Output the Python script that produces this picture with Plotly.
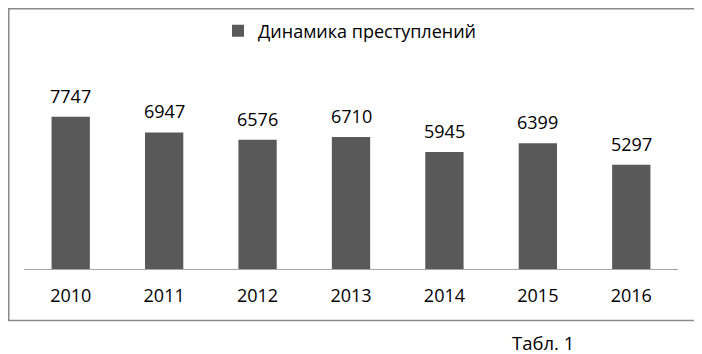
import plotly.graph_objects as go

years = ["2010", "2011", "2012", "2013", "2014", "2015", "2016"]
crimes = [7747, 6947, 6576, 6710, 5945, 6399, 5297]
series_name = "Динамика преступлений"
caption = "Табл. 1"

# page has an 8px body margin, so figure coords = page coords - 8
OFF = 8
W, H = 702 - OFF, 354 - OFF
L, R, T, B = 24 - OFF, 24, 92 - OFF, 85
pw = W - L - R
ph = H - T - B

def px_x(x):  # page x -> paper
    return (x - OFF - L) / pw

def px_y(y):  # page y -> paper
    return (H - B - (y - OFF)) / ph

FONT = "Open Sans"
fig = go.Figure()
fig.add_trace(go.Bar(
    x=years, y=crimes, name=series_name,
    marker=dict(color="#595959", line=dict(width=0)),
    showlegend=True,
))

for i, v in enumerate(crimes):
    fig.add_annotation(x=i, y=v, xref="x", yref="y", text=str(v), showarrow=False,
                       yanchor="bottom", yshift=7,
                       font=dict(family=FONT, size=18, color="#000000"))

fig.add_annotation(xref="paper", yref="paper", x=px_x(576), y=px_y(342),
                   xanchor="right", yanchor="middle", text=caption, showarrow=False,
                   font=dict(family=FONT, size=18.5, color="#000000"))

fig.add_shape(type="rect", xref="paper", yref="paper",
              x0=px_x(OFF + 0.75), x1=px_x(700.5), y0=px_y(320.5), y1=px_y(OFF + 0.75),
              line=dict(color="#8a8a8a", width=1.5), fillcolor="rgba(0,0,0,0)")

fig.update_layout(
    width=W, height=H,
    margin=dict(l=L, r=R, t=T, b=B, autoexpand=False),
    paper_bgcolor="white", plot_bgcolor="white",
    bargap=0.59,
    font=dict(family=FONT, size=18, color="#000000"),
    showlegend=True,
    legend=dict(orientation="h", x=px_x(350), xanchor="center", y=px_y(31), yanchor="middle",
                font=dict(family=FONT, size=18, color="#000000"),
                bgcolor="rgba(0,0,0,0)", itemwidth=30),
    xaxis=dict(type="category", categoryorder="array", categoryarray=years,
               range=[-0.5, len(years) - 0.5], automargin=False,
               showline=True, linecolor="#a6a6a6", linewidth=1, ticks="",
               showgrid=False, zeroline=False, ticklabelstandoff=10,
               tickfont=dict(family=FONT, size=18, color="#000000")),
    yaxis=dict(range=[0, 9000], visible=False, showgrid=False, zeroline=False),
)

fig.write_html("out.html")
